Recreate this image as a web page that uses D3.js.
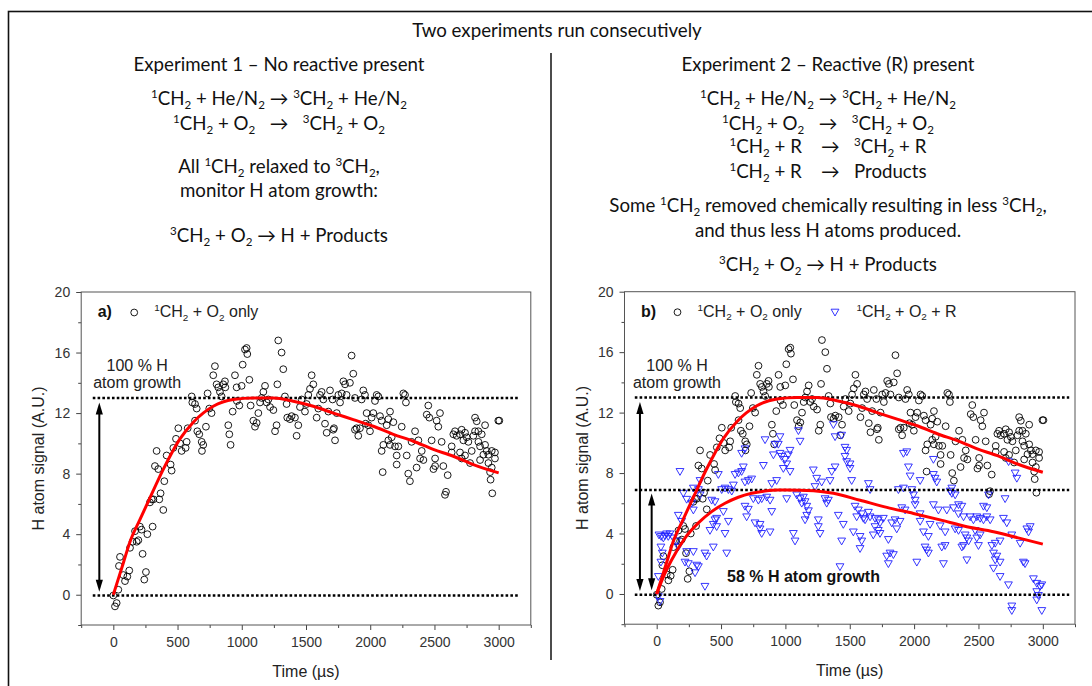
<!DOCTYPE html>
<html>
<head>
<meta charset="utf-8">
<script src="https://cdn.jsdelivr.net/npm/d3@7"></script>
<style>
  body { margin: 0; background: #fff; }
  svg text { white-space: pre; }
</style>
</head>
<body>
<svg id="fig" width="1092" height="686"></svg>
<script>
// ---- data ----
// 1CH2 + O2 only (same points in both panels): [time us, H signal]
const onlyO2 = [
  [0,-0.05],[13,-0.77],[26,-0.55],[39,0.33],[44,1.9],[52,2.5],[78,1.3],[91,0.9],[109,1.2],[124,1.6],
  [130,3.1],[150,3.5],[169,4.2],[182,3.5],[195,3.6],[207,4.5],[220,4.3],[228,2.7],[241,1.0],[254,1.5],
  [265,4.0],[285,6.1],[298,6.3],[306,4.5],[312,6.3],[358,6.3],[368,6.7],[389,5.6],[397,7.5],[454,8.2],
  [324,8.5],[337,9.5],[350,8.3],[415,9.2],[446,8.6],[467,9.7],[488,10.3],[506,11.0],[519,10.0],[532,9.5],
  [563,9.7],[571,10.1],[579,11.0],[610,13.1],[615,12.7],[636,12.6],[649,12.3],[636,11.5],[654,10.8],[669,10.6],
  [688,10.1],[700,9.9],[690,9.5],[721,11.1],[734,13.3],[747,12.3],[765,12.0],[778,14.5],[791,15.1],[804,13.9],
  [817,13.7],[830,13.4],[843,13.1],[856,13.9],[869,14.1],[872,13.7],[895,11.2],[903,10.6],[913,9.9],[929,12.1],
  [947,14.5],[960,13.7],[962,12.8],[981,12.5],[999,13.8],[1007,15.2],[1025,16.2],[1038,16.3],[1043,15.9],[1059,14.2],
  [1069,12.5],[1090,11.5],[1103,11.1],[1116,11.35],[1129,12.0],[1142,12.7],[1155,13.0],[1168,13.4],[1181,13.8],[1194,12.7],
  [1207,12.9],[1220,12.4],[1246,12.2],[1259,10.8],[1271,11.2],[1277,13.9],[1284,16.8],[1310,16.0],[1323,14.9],[1336,13.1],
  [1349,12.6],[1354,11.7],[1375,11.6],[1388,11.8],[1414,11.7],[1427,10.5],[1440,11.2],[1453,12.4],[1466,12.9],[1492,12.1],
  [1505,12.6],[1518,13.2],[1531,13.6],[1544,14.5],[1557,13.9],[1583,11.7],[1596,12.3],[1609,13.2],[1622,13.4],[1635,12.9],
  [1648,11.3],[1661,10.7],[1674,12.1],[1687,13.5],[1707,12.9],[1712,10.9],[1718,11.0],[1726,10.2],[1739,12.0],[1752,13.2],
  [1765,12.7],[1778,13.3],[1791,14.1],[1804,13.9],[1816,13.2],[1842,14.0],[1855,15.8],[1868,14.6],[1881,13.0],[1881,10.9],
  [1894,11.0],[1907,10.5],[1920,11.0],[1933,12.9],[1946,13.5],[1959,13.2],[1964,11.3],[1972,12.0],[1985,11.2],[1998,10.8],
  [2011,11.7],[2024,12.0],[2037,12.8],[2050,13.2],[2063,13.1],[2076,11.8],[2089,9.5],[2089,11.5],[2102,9.9],[2097,8.1],
  [2128,11.2],[2141,11.6],[2141,10.2],[2154,12.1],[2154,9.9],[2167,10.4],[2180,11.4],[2193,9.8],[2206,8.6],[2206,9.2],
  [2219,9.8],[2245,11.1],[2258,13.3],[2271,13.2],[2278,12.7],[2284,9.2],[2296,8.0],[2309,7.5],[2322,10.1],[2349,10.8],
  [2361,8.4],[2375,10.2],[2388,9.0],[2401,9.5],[2414,8.9],[2440,11.9],[2452,12.5],[2460,11.7],[2478,10.2],[2492,8.3],
  [2505,9.0],[2505,8.5],[2517,11.5],[2530,11.1],[2543,12.0],[2556,10.1],[2569,8.5],[2582,6.6],[2590,6.8],[2603,7.9],
  [2634,9.8],[2634,9.4],[2647,10.6],[2660,10.8],[2673,10.5],[2699,10.6],[2699,9.4],[2712,10.9],[2712,9.0],[2725,10.2],
  [2738,10.7],[2738,9.2],[2751,10.4],[2764,10.1],[2777,8.7],[2790,9.5],[2803,10.5],[2816,11.7],[2816,10.8],[2829,11.46],
  [2842,10.8],[2842,10.1],[2855,9.8],[2855,8.9],[2868,10.6],[2881,9.25],[2894,9.9],[2894,11.2],[2907,9.5],[2920,9.25],
  [2920,8.7],[2933,8.1],[2937,7.6],[2946,9.5],[2946,8.4],[2950,6.7],[2971,9.4],[2971,9.0],[2997,11.5],[3005,11.5]
];

// 1CH2 + O2 + R (panel b only)
const withR = [
  [181,8.1],[18,3.9],[35,3.8],[52,3.7],[64,3.85],[77,3.97],[90,3.8],[103,3.97],[33,3.1],[44,2.7],
  [33,2.1],[13,1.15],[13,-0.18],[26,-0.5],[129,3.7],[155,3.5],[168,3.1],[168,5.2],[194,4.8],[207,6.66],
  [233,6.26],[272,6.0],[285,5.55],[285,7.0],[324,6.9],[337,6.55],[337,7.5],[220,2.1],[246,2.0],[311,1.9],
  [324,1.8],[298,1.4],[285,2.8],[233,2.8],[375,2.7],[388,2.5],[375,0.5],[414,4.2],[440,4.6],[466,4.45],
  [453,4.9],[466,5.0],[427,6.2],[453,6.1],[440,3.1],[531,4.0],[544,2.7],[518,5.45],[557,4.8],[505,6.9],
  [531,7.0],[557,6.9],[583,6.8],[609,7.9],[635,8.0],[660,8.1],[673,8.4],[686,7.4],[712,7.5],[738,7.6],
  [596,7.2],[660,9.3],[686,9.6],[829,8.5],[842,10.2],[894,7.3],[907,9.2],[920,9.9],[686,5.8],[712,5.6],
  [699,5.1],[764,4.7],[803,4.6],[816,4.0],[803,4.3],[751,6.3],[790,6.2],[816,6.3],[855,6.4],[881,6.2],
  [894,5.45],[881,4.1],[479,7.9],
  [958,10.4],[945,9.9],[958,9.3],[971,9.1],[997,8.9],[1023,9.2],[1036,9.5],[1010,8.6],[984,8.3],[1036,8.1],
  [932,7.5],[1010,6.3],[1088,6.55],[1114,6.3],[1140,6.4],[1127,6.0],[1153,6.1],[1166,5.8],[1179,5.5],[1166,5.2],
  [1153,4.9],[1101,10.8],[1114,10.1],[1062,4.0],[1075,3.5],[1217,8.2],[1243,7.65],[1230,7.1],[1282,7.4],[1347,7.5],
  [1360,8.1],[1386,8.4],[1256,4.9],[1256,4.45],[1269,4.0],[1308,6.3],[1321,6.0],[1334,6.2],[1373,11.2],[1386,10.4],
  [1437,10.5],[1463,9.7],[1476,9.5],[1463,9.1],[1476,8.75],[1502,8.6],[1502,8.3],[1515,7.5],[1411,5.2],[1450,4.6],
  [1437,3.5],[1424,1.8],[1541,5.8],[1554,5.1],[1567,5.55],[1593,5.3],[1606,5.0],[1619,4.9],[1645,5.4],[1658,5.1],
  [1528,4.1],[1580,3.8],[1593,3.5],[1580,3.0],[1645,7.3],[1658,6.9],[1696,5.0],[1722,4.9],[1735,4.7],[1761,5.0],
  [1696,4.45],[1722,4.2],[1683,3.9],[1735,4.0],[1800,3.6],[1813,2.7],[1787,2.5],[1800,2.0],[1839,2.6],[1826,4.7],
  [1852,4.9],[1891,4.8],[1865,4.3],[1904,5.7],[1930,5.55],[1878,6.9],[1917,7.0],[1917,9.3],[1943,9.4],[1956,8.4],
  [1969,7.8],[2047,7.5],[2163,7.65],[2176,7.4],[2150,7.9],[1982,6.9],[1995,6.55],[2008,6.2],[2008,5.9],[2047,5.3],
  [2047,4.8],[2073,4.1],[2111,3.8],[2124,4.6],[2202,4.5],[2241,4.1],[2150,5.9],[2189,5.55],[2254,5.55],[2306,5.7],
  [2345,5.9],[2371,5.8],[2280,6.8],[2293,6.65],[2319,6.55],[2293,7.0],[2345,5.3],[2384,5.1],[2319,4.3],[2345,4.2],
  [2397,3.9],[2410,3.7],[2371,3.1],[2384,3.2],[2423,3.5],[2085,3.1],[2098,2.9],[2111,2.7],[2021,2.1],[2215,3.1],
  [2241,3.2],[2228,2.0],[2410,2.25],[2435,5.1],[2461,4.9],[2487,5.1],[2513,5.0],[2539,4.9],[2565,5.1],[2591,4.9],
  [2565,5.7],[2474,4.2],[2513,3.9],[2487,3.7],[2500,3.2],[2539,5.8],[2578,6.55],[2707,6.3],[2604,3.2],[2630,3.35],
  [2668,3.5],[2617,2.7],[2643,2.5],[2630,2.25],[2668,2.1],[2617,1.7],[2668,1.15],[2733,0.6],[2694,5.0],[2720,4.7],
  [2759,3.9],[2824,3.35],[2849,2.1],[2862,2.0],[2876,4.3],[2902,4.45],[2889,4.1],[2785,8.0],[2798,7.65],[2759,-0.8],
  [2759,-1.1],[2927,1.0],[2953,0.7],[2979,0.5],[2992,0.6],[2953,0.15],[2966,-0.1],[2953,-0.4],[2992,-1.1],[2150,8.9],
  [2734,8.75]
];

// red fit curves
const fitNoR = [
  [0,0],[78,2.1],[130,3.5],[207,4.96],[285,6.4],[384,8.2],[519,10.3],[623,11.4],[778,12.45],[934,12.9],
  [1090,13.0],[1246,13.0],[1401,12.78],[1557,12.45],[1713,12.0],[1868,11.57],[2024,11.13],[2180,10.6],[2335,10.14],
  [2491,9.6],[2647,9.15],[2803,8.6],[3000,8.05]
];
const fitR = [
  [0,0],[50,1.1],[116,2.25],[220,3.7],[324,4.7],[427,5.45],[531,6.0],[634,6.4],[738,6.66],[842,6.81],
  [946,6.88],[1010,6.88],[1218,6.83],[1373,6.66],[1580,6.2],[1788,5.73],[1995,5.33],[2202,4.9],[2410,4.45],
  [2617,4.12],[2824,3.68],[3000,3.3]
];

const levelFull = 13;      // 100 % H atom growth
const levelReduced = 6.88; // 58 % H atom growth
const levelZero = -0.05;

const xDomain = [-250, 3250];
const yDomain = [-2, 20];
const xTicks = [0, 500, 1000, 1500, 2000, 2500, 3000];
const xMinor = [-250, 250, 750, 1250, 1750, 2250, 2750, 3250];
const yTicks = [0, 4, 8, 12, 16, 20];
const yMinor = [-2, 2, 6, 10, 14, 18];

const title = "Two experiments run consecutively";
const leftLines = [
  "Experiment 1 – No reactive present",
  "^1CH_2 + He/N_2 → ^3CH_2 + He/N_2",
  "^1CH_2 + O_2   →   ^3CH_2 + O_2",
  "All ^1CH_2 relaxed to ^3CH_2,",
  "monitor H atom growth:",
  "^3CH_2 + O_2 → H + Products"
];
const rightLines = [
  "Experiment 2 – Reactive (R) present",
  "^1CH_2 + He/N_2 → ^3CH_2 + He/N_2",
  "^1CH_2 + O_2   →   ^3CH_2 + O_2",
  "^1CH_2 + R    →   ^3CH_2 + R",
  "^1CH_2 + R    →   Products",
  "Some ^1CH_2 removed chemically resulting in less ^3CH_2,",
  "and thus less H atoms produced.",
  "^3CH_2 + O_2 → H + Products"
];

// ---- drawing ----
const AX = "'Liberation Sans', Arial, sans-serif";
const HEAD = "Lato, Calibri, 'Open Sans', sans-serif";
const svg = d3.select("#fig");

function richText(text, str, fs) {
  let off = 0;
  str.split(/([\^_]\d)/).filter((p) => p).forEach((p) => {
    let target = 0, size = fs, s = p;
    if (p[0] === "^") { target = -0.38 * fs; size = 0.62 * fs; s = p.slice(1); }
    else if (p[0] === "_") { target = 0.22 * fs; size = 0.62 * fs; s = p.slice(1); }
    text.append("tspan").attr("dy", target - off).attr("font-size", size).text(s);
    off = target;
  });
  return text;
}

// outer box + divider
svg.append("rect")
  .attr("x", 8.5).attr("y", 11.5).attr("width", 1200).attr("height", 800)
  .attr("fill", "none").attr("stroke", "#111").attr("stroke-width", 1.6);
svg.append("line")
  .attr("x1", 551).attr("x2", 551).attr("y1", 53).attr("y2", 660)
  .attr("stroke", "#111").attr("stroke-width", 1.5);

// header texts
const headFs = 18.7;
svg.append("text").attr("x", 557).attr("y", 37).attr("text-anchor", "middle")
  .attr("font-family", HEAD).attr("font-size", headFs).attr("fill", "#111").text(title);

const leftY = [71, 105, 130, 173, 197, 242];
const rightY = [71, 105, 130, 153, 178, 212, 237, 271];
leftLines.forEach((s, i) => {
  const t = svg.append("text").attr("x", 279).attr("y", leftY[i]).attr("text-anchor", "middle")
    .attr("font-family", HEAD).attr("font-size", headFs).attr("fill", "#111");
  richText(t, s, headFs);
});
rightLines.forEach((s, i) => {
  const t = svg.append("text").attr("x", 828).attr("y", rightY[i]).attr("text-anchor", "middle")
    .attr("font-family", HEAD).attr("font-size", headFs).attr("fill", "#111");
  richText(t, s, headFs);
});

function styleAxis(g) {
  g.select(".domain").remove();
  g.selectAll("line").attr("stroke", "#444");
  g.selectAll("text").attr("fill", "#333").attr("font-size", 14).attr("font-family", AX);
}

function triPath(cx, cy) {
  return `M${cx - 3.9},${cy - 3} L${cx + 3.9},${cy - 3} L${cx},${cy + 3.8} Z`;
}

function arrow(g, xp, yTop, yBot) {
  const hl = 12, hw = 3.6;
  g.append("line").attr("x1", xp).attr("x2", xp).attr("y1", yTop + hl - 1).attr("y2", yBot - hl + 1)
    .attr("stroke", "#000").attr("stroke-width", 2);
  g.append("path").attr("d", `M${xp},${yTop} L${xp - hw},${yTop + hl} L${xp + hw},${yTop + hl} Z`).attr("fill", "#000");
  g.append("path").attr("d", `M${xp},${yBot} L${xp - hw},${yBot - hl} L${xp + hw},${yBot - hl} Z`).attr("fill", "#000");
}

function drawPanel(p) {
  const x = d3.scaleLinear().domain(xDomain).range([p.left, p.right]);
  const y = d3.scaleLinear().domain(yDomain).range([p.bottom, p.top]);
  const g = svg.append("g");

  g.append("g").attr("transform", `translate(0,${p.bottom})`)
    .call(d3.axisBottom(x).tickValues(xTicks).tickFormat(d3.format("d")).tickSize(5).tickPadding(7)).call(styleAxis);
  g.append("g").attr("transform", `translate(0,${p.bottom})`)
    .call(d3.axisBottom(x).tickValues(xMinor).tickSize(3).tickFormat("")).call(styleAxis);
  g.append("g").attr("transform", `translate(${p.left},0)`)
    .call(d3.axisLeft(y).tickValues(yTicks).tickSize(5).tickPadding(6)).call(styleAxis);
  g.append("g").attr("transform", `translate(${p.left},0)`)
    .call(d3.axisLeft(y).tickValues(yMinor).tickSize(3).tickFormat("")).call(styleAxis);

  g.append("rect").attr("x", p.left).attr("y", p.top)
    .attr("width", p.right - p.left).attr("height", p.bottom - p.top)
    .attr("fill", "none").attr("stroke", "#555").attr("stroke-width", 1);

  // axis titles
  g.append("text").attr("x", (p.left + p.right) / 2).attr("y", p.bottom + 52)
    .attr("text-anchor", "middle").attr("font-family", AX).attr("font-size", 16).attr("fill", "#222")
    .text("Time (µs)");
  g.append("text").attr("transform", `translate(${p.left - 37},${(p.top + p.bottom) / 2}) rotate(-90)`)
    .attr("text-anchor", "middle").attr("font-family", AX).attr("font-size", 16).attr("fill", "#222")
    .text("H atom signal (A.U.)");

  // scatter
  g.append("g").selectAll("circle").data(onlyO2).join("circle")
    .attr("cx", (d) => x(d[0])).attr("cy", (d) => y(d[1])).attr("r", 3.4)
    .attr("fill", "none").attr("stroke", "#000").attr("stroke-width", 0.9);
  if (p.withR) {
    g.append("g").selectAll("path").data(withR).join("path")
      .attr("d", (d) => triPath(x(d[0]), y(d[1])))
      .attr("fill", "none").attr("stroke", "#1f1fff").attr("stroke-width", 0.9);
  }

  // dotted reference levels
  const levels = p.withR ? [levelFull, levelReduced, levelZero] : [levelFull, levelZero];
  g.selectAll(".lvl").data(levels).join("line")
    .attr("x1", x(p.dotFrom)).attr("x2", x(p.dotTo))
    .attr("y1", (d) => y(d)).attr("y2", (d) => y(d))
    .attr("stroke", "#000").attr("stroke-width", 2.6).attr("stroke-dasharray", "2.6 2.2");

  // arrows
  arrow(g, x(p.arrowT[0]), y(12.7), y(0.2));
  if (p.withR) arrow(g, x(p.arrowT[1]), y(6.65), y(0.25));

  // fits
  const line = d3.line().x((d) => x(d[0])).y((d) => y(d[1])).curve(d3.curveMonotoneX);
  const fits = p.withR ? [fitNoR, fitR] : [fitNoR];
  g.selectAll(".fit").data(fits).join("path")
    .attr("d", line).attr("fill", "none").attr("stroke", "#ff0000").attr("stroke-width", 3);

  // annotations
  g.append("text").attr("x", p.left + p.noteDx).attr("y", p.top + 79).attr("text-anchor", "middle")
    .attr("font-family", AX).attr("font-size", 16).attr("fill", "#222").text("100 % H");
  g.append("text").attr("x", p.left + p.noteDx).attr("y", p.top + 96).attr("text-anchor", "middle")
    .attr("font-family", AX).attr("font-size", 16).attr("fill", "#222").text("atom growth");
  if (p.withR) {
    g.append("text").attr("x", p.left + 102.5).attr("y", 582)
      .attr("font-family", AX).attr("font-size", 16).attr("font-weight", 700).attr("fill", "#111")
      .text("58 % H atom growth");
  }

  // legend
  g.append("text").attr("x", p.left + 16.5).attr("y", p.top + 25)
    .attr("font-family", AX).attr("font-size", 16).attr("font-weight", 700).attr("fill", "#111").text(p.tag);
  g.append("circle").attr("cx", p.left + 53).attr("cy", p.top + 20.5).attr("r", 3.4)
    .attr("fill", "none").attr("stroke", "#000").attr("stroke-width", 0.9);
  richText(g.append("text").attr("x", p.left + 73).attr("y", p.top + 25)
    .attr("font-family", AX).attr("font-size", 16).attr("fill", "#222"), "^1CH_2 + O_2 only", 16);
  if (p.withR) {
    g.append("path").attr("d", triPath(p.left + 210.5, p.top + 20.5))
      .attr("fill", "none").attr("stroke", "#1f1fff").attr("stroke-width", 0.9);
    richText(g.append("text").attr("x", p.left + 232).attr("y", p.top + 25)
      .attr("font-family", AX).attr("font-size", 16).attr("fill", "#222"), "^1CH_2 + O_2 + R", 16);
  }
}

drawPanel({ left: 81.2, right: 530.8, top: 292, bottom: 625, tag: "a)", withR: false,
  dotFrom: -160, dotTo: 3150, arrowT: [-109], noteDx: 56 });
drawPanel({ left: 624.5, right: 1075, top: 291.7, bottom: 624.2, tag: "b)", withR: true,
  dotFrom: -170, dotTo: 3205, arrowT: [-130, -39], noteDx: 52.5 });
</script>
</body>
</html>
